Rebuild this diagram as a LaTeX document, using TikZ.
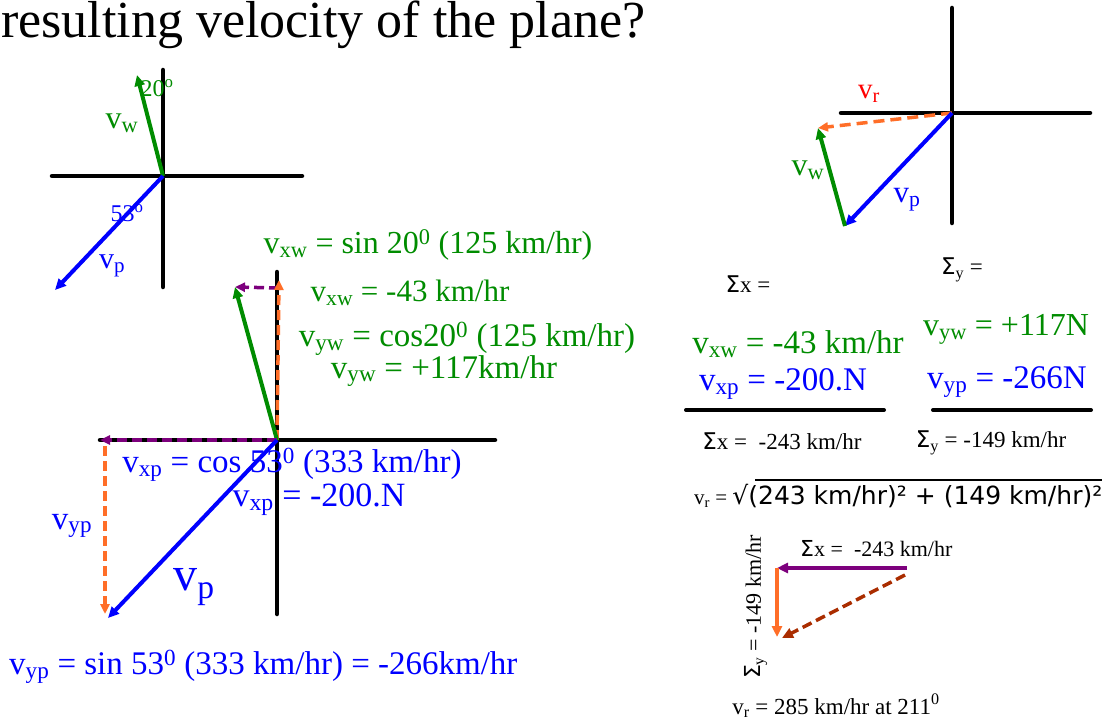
\documentclass[tikz,border=0pt]{standalone}
\usepackage{fontspec}
\setmainfont{Liberation Serif}
\newfontfamily\sansf{DejaVu Sans}
\usetikzlibrary{arrows.meta}

\definecolor{wgreen}{RGB}{0,140,0}
\definecolor{pblue}{RGB}{0,0,255}
\definecolor{corange}{RGB}{255,110,40}
\definecolor{cpurple}{RGB}{125,0,125}
\definecolor{rbrown}{RGB}{170,45,0}

\newcommand{\vsub}[1]{v\textsubscript{#1}}
\newcommand{\sig}{{\sansf Σ}}
\newcommand{\fs}[1]{\fontsize{#1}{#1}\selectfont}

\begin{document}
\begin{tikzpicture}[x=1pt,y=-1pt,
  axis/.style={line width=4.5pt,line cap=round},
  vec/.style={line width=4pt,-{Triangle[length=11pt,width=10pt]}},
  comp/.style={line width=3.5pt,dash pattern=on 10pt off 5pt,-{Triangle[length=10pt,width=9pt]}},
  lbl/.style={inner sep=0pt}]
\useasboundingbox (0,0) rectangle (1110,722);

\node[lbl,anchor=base west,font=\fs{52}] (title) at (1,38) {resulting velocity of the plane?};

% small sketch, upper left
\coordinate (o1) at (163,176);
\coordinate (w1) at (137,75);
\coordinate (p1) at (55,290);
\draw[axis] (52,176) -- (302,176);
\draw[axis] (163,70) -- (163,287);
\draw[vec,wgreen] (o1) -- (w1);
\draw[vec,pblue] (o1) -- (p1);
\node[lbl,wgreen,font=\fs{24}] (a20) at (157,88) {20\textsuperscript{o}};
\node[lbl,wgreen,font=\fs{32}] (vw1) at (122,123) {\vsub{w}};
\node[lbl,pblue,font=\fs{24}] (a53) at (127,213) {53\textsuperscript{o}};
\node[lbl,pblue,font=\fs{30}] (vp1) at (112,266) {\vsub{p}};

% components, middle
\coordinate (o2) at (277,440);
\coordinate (w2) at (235,287);
\coordinate (wx) at (279,288);
\coordinate (wy) at (279,280);
\coordinate (px) at (100,440);
\coordinate (pc) at (105,446);
\coordinate (py) at (105,614);
\coordinate (p2) at (108,618);
\draw[axis] (100,440) -- (495,440);
\draw[axis] (277,272) -- (277,614);
\draw[comp,cpurple] (wx) -- (w2);
\draw[comp,corange] (o2) -- (wy);
\draw[vec,wgreen] (o2) -- (w2);
\draw[comp,cpurple] (o2) -- (px);
\draw[comp,corange] (pc) -- (py);
\draw[vec,pblue] (o2) -- (p2);

\node[lbl,wgreen,font=\fs{32}] (xw1) at (428,245) {\vsub{xw} = sin 20\textsuperscript{0} (125 km/hr)};
\node[lbl,wgreen,font=\fs{31}] (xw2) at (410,293) {\vsub{xw} = -43 km/hr};
\node[lbl,wgreen,font=\fs{33}] (yw1) at (467,339) {\vsub{yw} = cos20\textsuperscript{0} (125 km/hr)};
\node[lbl,wgreen,font=\fs{33}] (yw2) at (444,371) {\vsub{yw} = +117km/hr};
\node[lbl,pblue,font=\fs{33}] (xp1) at (292,465) {\vsub{xp} = cos 53\textsuperscript{0} (333 km/hr)};
\node[lbl,pblue,font=\fs{34}] (xp2) at (319,500) {\vsub{xp} = -200.N};
\node[lbl,pblue,font=\fs{33}] (yp1) at (72,526) {\vsub{yp}};
\node[lbl,pblue,font=\fs{48}] (vp2) at (194,587) {\vsub{p}};
\node[lbl,pblue,font=\fs{33},anchor=west] (yp2) at (9,667) {\vsub{yp} = sin 53\textsuperscript{0} (333 km/hr) = -266km/hr};

% resultant, upper right
\coordinate (o3) at (952,113);
\coordinate (r3) at (818,128);
\coordinate (p3) at (845,226);
\draw[axis] (841,113) -- (1090,113);
\draw[axis] (952,8) -- (952,223);
\draw[comp,corange,dash pattern=on 11pt off 6pt] (o3) -- (r3);
\draw[vec,pblue] (o3) -- (p3);
\draw[vec,wgreen] (p3) -- (r3);
\node[lbl,red,font=\fs{29}] (vr3) at (869,94) {\vsub{r}};
\node[lbl,wgreen,font=\fs{32}] (vw3) at (808,170) {\vsub{w}};
\node[lbl,pblue,font=\fs{31}] (vp3) at (907,200) {\vsub{p}};

% sums
\node[lbl,font=\fs{23}] (sx0) at (748,284) {\sig x =};
\node[lbl,font=\fs{23}] (sy0) at (962,270) {\sig\textsubscript{y} =};
\node[lbl,wgreen,font=\fs{33}] (sxw) at (798,344) {\vsub{xw} = -43 km/hr};
\node[lbl,pblue,font=\fs{33}] (sxp) at (783,384) {\vsub{xp} = -200.N};
\node[lbl,wgreen,font=\fs{32}] (syw) at (1006,329) {\vsub{yw} = +117N};
\node[lbl,pblue,font=\fs{33}] (syp) at (1007,382) {\vsub{yp} = -266N};
\draw[line width=4pt,line cap=round] (686,410) coordinate (sxl) -- (884,410) coordinate (sxr);
\draw[line width=4pt,line cap=round] (933,410) coordinate (syl) -- (1091,410) coordinate (syr);
\node[lbl,font=\fs{23}] (sx1) at (782,441) {\sig x = \ -243 km/hr};
\node[lbl,font=\fs{23}] (sy1) at (991,443) {\sig\textsubscript{y} = -149 km/hr};
\node[lbl,font=\fs{21},anchor=west] (vr) at (694,496) {v\textsubscript{r} = {\sansf\fs{25}√(243 km/hr)² + (149 km/hr)²}};
\draw[line width=2.5pt] (755,480) coordinate (sq1) -- (1102,480) coordinate (sq2);

% sum triangle
\coordinate (t1) at (907,568);
\coordinate (t2) at (777,568);
\coordinate (t3) at (777,637);
\coordinate (t4) at (905,575);
\coordinate (t5) at (782,638);
\draw[cpurple,line width=4pt,-{Triangle[length=11pt,width=10pt]}] (t1) -- (t2);
\draw[corange,line width=3.5pt,-{Triangle[length=11pt,width=10pt]}] (t2) -- (t3);
\draw[rbrown,line width=3.5pt,dash pattern=on 10pt off 5pt,-{Triangle[length=11pt,width=10pt]}] (t4) -- (t5);
\node[lbl,font=\fs{22},anchor=west] (tx) at (800,549) {\sig x = \ -243 km/hr};
\node[lbl,font=\fs{22},rotate=90] (ty) at (756,607) {\sig\textsubscript{y} = -149 km/hr};
\node[lbl,font=\fs{23}] (tr) at (836,706) {v\textsubscript{r} = 285 km/hr at 211\textsuperscript{0}};
\end{tikzpicture}
\end{document}
